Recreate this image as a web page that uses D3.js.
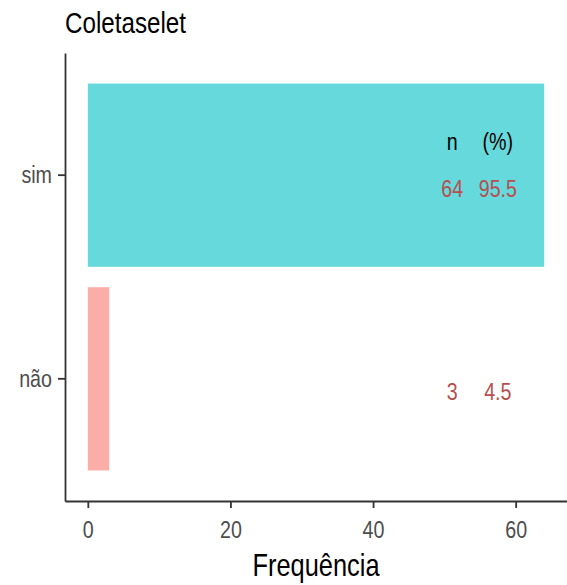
<!DOCTYPE html>
<meta charset="utf-8">
<style>
body { margin: 0; }
svg text { font-family: "Liberation Sans", Arial, sans-serif; }
.axis path, .axis line { stroke: #333; stroke-width: 1.8px; }
.axis text { fill: #4d4d4d; font-size: 24px; }
</style>
<svg width="567" height="585"></svg>
<script src="https://d3js.org/d3.v7.min.js"></script>
<script>

var categories = ["sim", "não"],
    counts = [64, 3],
    percents = ["95.5", "4.5"],
    barColors = ["#00BFC4", "#F8766D"],
    xTicks = [0, 20, 40, 60];

var svg = d3.select("svg"),
    margin = {left: 65, right: 567, top: 53, bottom: 501},
    squeeze = 0.82; // the reference text is horizontally condensed

var xScale = d3.scaleLinear().domain([-3.2, 67.2]).range([margin.left, margin.right]),
    yScale = d3.scaleBand().domain(categories).range([margin.top, margin.bottom])
      .paddingInner(0.1).paddingOuter(0.15);

var data = categories.map(function(c, i) {
  return {cat: c, n: counts[i], pct: percents[i], color: barColors[i]};
});

// place a condensed text at (x, y)
function label(x, y, txt, size, anchor, color) {
  return svg.append("text")
    .attr("transform", "translate(" + x + "," + y + ") scale(" + squeeze + ",1)")
    .attr("text-anchor", anchor)
    .style("font-size", size + "px")
    .style("fill", color || "#000")
    .text(txt);
}

// bars
svg.selectAll(".bar")
  .data(data)
  .enter().append("rect")
    .attr("class", "bar")
    .attr("x", xScale(0))
    .attr("y", function(d) { return yScale(d.cat); })
    .attr("width", function(d) { return xScale(d.n) - xScale(0); })
    .attr("height", yScale.bandwidth())
    .attr("fill", function(d) { return d.color; })
    .attr("fill-opacity", 0.6);

// axes
var xAxis = svg.append("g")
    .attr("class", "axis x-axis")
    .attr("transform", "translate(0," + margin.bottom + ")")
    .call(d3.axisBottom(xScale).tickValues(xTicks).tickSizeOuter(0).tickSizeInner(7).tickPadding(13));
xAxis.selectAll("text").attr("transform", "scale(" + squeeze + ",1)");

var yAxis = svg.append("g")
    .attr("class", "axis y-axis")
    .attr("transform", "translate(" + margin.left + ",0)")
    .call(d3.axisLeft(yScale).tickSizeOuter(0).tickSizeInner(7).tickPadding(11));
yAxis.selectAll("text")
    .attr("x", -13 / squeeze)
    .attr("transform", "scale(" + squeeze + ",1)");

// n / (%) columns
var nCol = 51.1, pctCol = 57.5,
    headY = yScale("sim") + yScale.bandwidth() / 2 - 33 + 8;

label(xScale(nCol), headY, "n", 24, "middle");
label(xScale(pctCol), headY, "(%)", 24, "middle");

data.forEach(function(d) {
  var yy = yScale(d.cat) + yScale.bandwidth() / 2 + 13 + 8.5;
  label(xScale(nCol), yy, d.n, 24, "middle", "#B5504F");
  label(xScale(pctCol), yy, d.pct, 24, "middle", "#B5504F");
});

// title and axis title
label(margin.left, 33, "Coletaselet", 29.5, "start");
label((margin.left + margin.right) / 2, 576, "Frequência", 31, "middle");

</script>
